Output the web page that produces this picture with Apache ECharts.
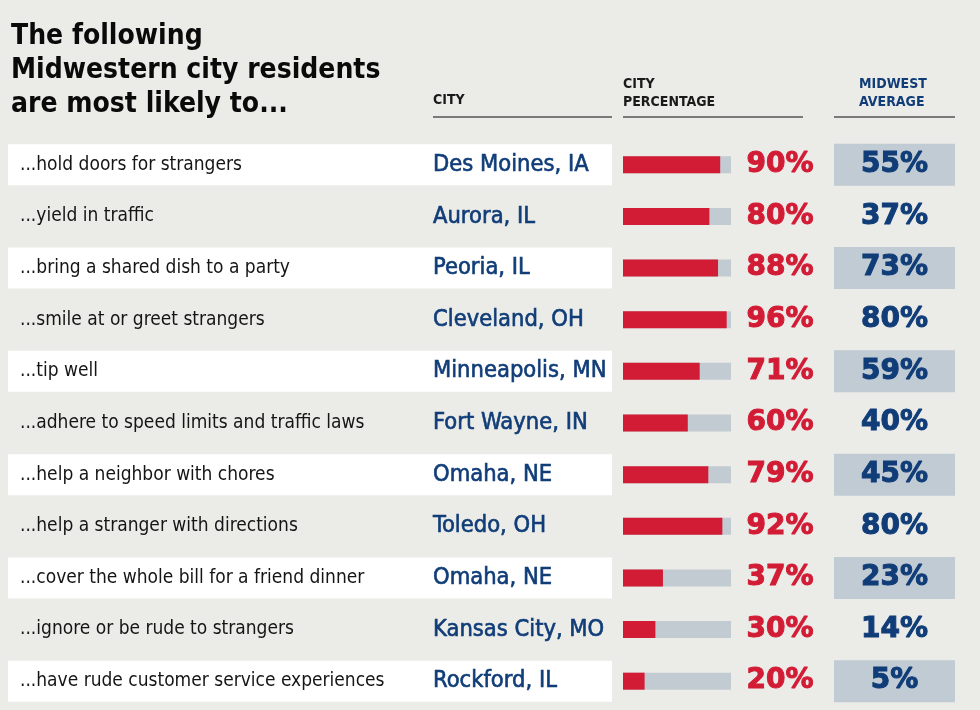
<!DOCTYPE html>
<html>
<head>
<meta charset="utf-8">
<script src="https://cdn.jsdelivr.net/npm/echarts@6/dist/echarts.min.js"></script>
<style>
html,body{margin:0;padding:0;background:#ebebe7;}
#chart{width:980px;height:710px;}
</style>
</head>
<body>
<div id="chart"></div>
<script>
// data
var activities = [
	'...hold doors for strangers',
	'...yield in traffic',
	'...bring a shared dish to a party',
	'...smile at or greet strangers',
	'...tip well',
	'...adhere to speed limits and traffic laws',
	'...help a neighbor with chores',
	'...help a stranger with directions',
	'...cover the whole bill for a friend dinner',
	'...ignore or be rude to strangers',
	'...have rude customer service experiences'
];
var cities = ['Des Moines, IA', 'Aurora, IL', 'Peoria, IL', 'Cleveland, OH', 'Minneapolis, MN',
	'Fort Wayne, IN', 'Omaha, NE', 'Toledo, OH', 'Omaha, NE', 'Kansas City, MO', 'Rockford, IL'];
var cityPct = [90, 80, 88, 96, 71, 60, 79, 92, 37, 30, 20];
var midwestAvg = [55, 37, 73, 80, 59, 40, 45, 80, 23, 14, 5];

var RED = '#d21c35', NAVY = '#103d78', TRACK = '#c3cbd2', BOX = '#c1cbd4';
var narrow = '"Liberation Sans Narrow", "DejaVu Sans Condensed", sans-serif';
var wide = '"DejaVu Sans", sans-serif';

//striped rows: every other row gets a band
var band = activities.map(function (a, i) { return i % 2 === 0 ? 1 : '-'; });
var full = activities.map(function () { return 1; });
var hundred = activities.map(function () { return 100; });

function catAxis(gi, extra) {
	var ax = {
		type: 'category', gridIndex: gi, data: activities, inverse: true,
		axisLine: {show: false}, axisTick: {show: false}, axisLabel: {show: false}
	};
	for (var k in extra) ax[k] = extra[k];
	return ax;
}

var chart = echarts.init(document.getElementById('chart'));
chart.setOption({
	backgroundColor: '#ebebe7',
	animation: false,
	title: {
		text: 'The following\nMidwestern city residents\nare most likely to...',
		left: 6, top: 15,
		textStyle: {fontFamily: narrow, fontWeight: 'bold', fontSize: 28, lineHeight: 34, color: '#0a0a0a'}
	},
	graphic: [
		{type: 'text', left: 433, top: 93, style: {text: 'CITY', font: 'bold 14px ' + narrow, fill: '#1a1a1a'}},
		{type: 'text', left: 623, top: 75, style: {text: 'CITY\nPERCENTAGE', font: 'bold 14px ' + narrow, fill: '#1a1a1a', lineHeight: 18}},
		{type: 'text', left: 859, top: 75, style: {text: 'MIDWEST\nAVERAGE', font: 'bold 14px ' + narrow, fill: NAVY, lineHeight: 18, align: 'center'}},
		{type: 'line', shape: {x1: 433, y1: 117, x2: 612, y2: 117}, style: {stroke: '#555', lineWidth: 1.5}},
		{type: 'line', shape: {x1: 623, y1: 117, x2: 803, y2: 117}, style: {stroke: '#555', lineWidth: 1.5}},
		{type: 'line', shape: {x1: 834, y1: 117, x2: 955, y2: 117}, style: {stroke: '#555', lineWidth: 1.5}}
	],
	grid: [
		{left: 8, width: 604, top: 139, height: 568},
		{left: 623, width: 108, top: 139, height: 568},
		{left: 834, width: 121, top: 139, height: 568}
	],
	xAxis: [
		{type: 'value', gridIndex: 0, min: 0, max: 1, show: false},
		{type: 'value', gridIndex: 1, min: 0, max: 100, show: false},
		{type: 'value', gridIndex: 2, min: 0, max: 1, show: false}
	],
	yAxis: [
		catAxis(0, {z: 10, axisLabel: {show: true, inside: true, margin: 12, fontFamily: narrow, fontSize: 19, color: '#151515'}}),
		catAxis(1, {}),
		catAxis(2, {})
	],
	series: [
		{
			type: 'bar', xAxisIndex: 0, yAxisIndex: 0, data: band, barWidth: 41, barGap: '-100%',
			itemStyle: {color: '#ffffff'}, silent: true
		},
		{
			type: 'bar', xAxisIndex: 0, yAxisIndex: 0, data: full, barWidth: 41, barGap: '-100%',
			itemStyle: {color: 'rgba(0,0,0,0)'}, silent: true,
			label: {
				show: true, position: [425, '50%'], align: 'left', verticalAlign: 'middle',
				fontFamily: narrow, fontSize: 23.5, color: NAVY,
				textBorderColor: NAVY, textBorderWidth: 0.6,
				formatter: function (p) { return cities[p.dataIndex]; }
			}
		},
		{
			type: 'bar', xAxisIndex: 1, yAxisIndex: 1, data: hundred, barWidth: 17, barGap: '-100%',
			itemStyle: {color: TRACK}, silent: true,
			label: {
				show: true, position: [157, '50%'], align: 'center', verticalAlign: 'middle',
				fontFamily: wide, fontSize: 28, fontWeight: 'bold', color: RED,
				textBorderColor: RED, textBorderWidth: 1,
				formatter: function (p) { return cityPct[p.dataIndex] + '%'; }
			}
		},
		{
			type: 'bar', xAxisIndex: 1, yAxisIndex: 1, data: cityPct, barWidth: 17, barGap: '-100%',
			itemStyle: {color: RED}
		},
		{
			type: 'bar', xAxisIndex: 2, yAxisIndex: 2, data: band, barWidth: 42, barGap: '-100%',
			itemStyle: {color: BOX}, silent: true
		},
		{
			type: 'bar', xAxisIndex: 2, yAxisIndex: 2, data: full, barWidth: 42, barGap: '-100%',
			itemStyle: {color: 'rgba(0,0,0,0)'}, silent: true,
			label: {
				show: true, position: 'inside',
				fontFamily: wide, fontSize: 28, fontWeight: 'bold', color: NAVY,
				textBorderColor: NAVY, textBorderWidth: 1,
				formatter: function (p) { return midwestAvg[p.dataIndex] + '%'; }
			}
		}
	]
});
</script>
</body>
</html>
